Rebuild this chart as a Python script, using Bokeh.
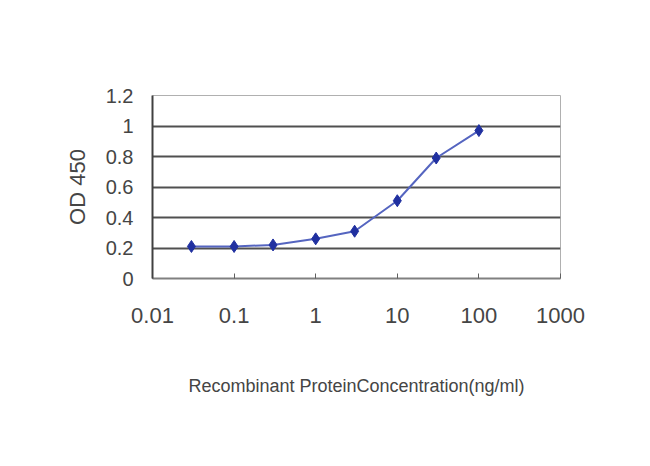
from bokeh.plotting import figure
from bokeh.models import FixedTicker, ColumnDataSource, Range1d
from bokeh.embed import file_html
from bokeh.resources import INLINE

conc = [0.03, 0.1, 0.3, 1, 3, 10, 30, 100]
od450 = [0.21, 0.21, 0.22, 0.26, 0.31, 0.51, 0.79, 0.97]
x_ticks = [0.01, 0.1, 1, 10, 100, 1000]
x_tick_labels = ["0.01", "0.1", "1", "10", "100", "1000"]
y_ticks = [0, 0.2, 0.4, 0.6, 0.8, 1.0, 1.2]
y_tick_labels = ["0", "0.2", "0.4", "0.6", "0.8", "1", "1.2"]

FONT = "Liberation Sans"
TXT = "#454545"

p = figure(width=634, height=450, output_backend="svg", toolbar_location=None,
           x_axis_type="log", x_range=Range1d(0.01, 1000), y_range=Range1d(0, 1.2),
           min_border_left=152, min_border_right=74, min_border_top=95, min_border_bottom=172)
p.background_fill_color = "white"
p.border_fill_color = "white"
p.outline_line_color = "#b0b0b0"

src = ColumnDataSource(dict(x=conc, y=od450))
p.line("x", "y", source=src, line_color="#5565c0", line_width=2)
p.scatter("x", "y", source=src, marker="diamond", size=12, fill_color="#2030a0", line_color="#2030a0")

# grid
p.xgrid.grid_line_color = None
p.ygrid.ticker = FixedTicker(ticks=[0.2, 0.4, 0.6, 0.8, 1.0])
p.ygrid.grid_line_color = "#505050"
p.ygrid.grid_line_width = 2

# x axis
xa = p.xaxis[0]
xa.ticker = FixedTicker(ticks=x_ticks, minor_ticks=[])
xa.major_label_overrides = {t: l for t, l in zip(x_ticks, x_tick_labels)}
xa.major_tick_in = 5
xa.major_tick_out = 0
xa.minor_tick_line_color = None
xa.major_tick_line_color = "#606060"
xa.axis_line_color = "#808080"
xa.axis_line_width = 2
xa.major_label_text_font = FONT
xa.major_label_text_font_size = "22px"
xa.major_label_text_color = TXT
xa.major_label_standoff = 29
xa.axis_label = "Recombinant ProteinConcentration(ng/ml)"
xa.axis_label_text_font = FONT
xa.axis_label_text_font_size = "18px"
xa.axis_label_text_font_style = "normal"
xa.axis_label_text_color = TXT
xa.axis_label_standoff = 50

# y axis
ya = p.yaxis[0]
ya.ticker = FixedTicker(ticks=y_ticks, minor_ticks=[])
ya.major_label_overrides = {t: l for t, l in zip(y_ticks, y_tick_labels)}
ya.major_tick_in = 0
ya.major_tick_out = 0
ya.minor_tick_line_color = None
ya.axis_line_color = "#404040"
ya.axis_line_width = 2
ya.major_label_text_font = FONT
ya.major_label_text_font_size = "20px"
ya.major_label_text_color = TXT
ya.major_label_standoff = 19
ya.axis_label = "OD 450"
ya.axis_label_text_font = FONT
ya.axis_label_text_font_size = "22px"
ya.axis_label_text_font_style = "normal"
ya.axis_label_text_color = TXT
ya.axis_label_standoff = 13

open("out.html", "w").write(file_html(p, INLINE))
